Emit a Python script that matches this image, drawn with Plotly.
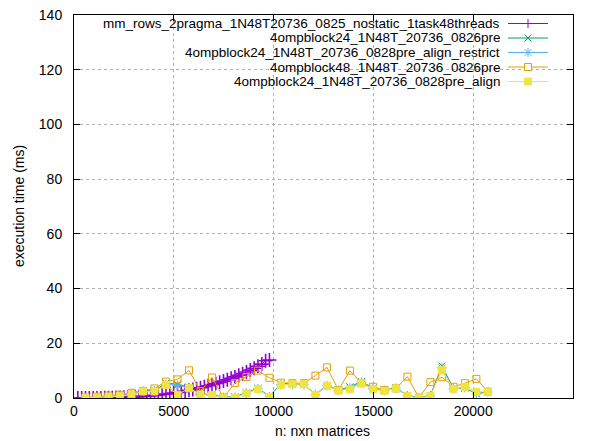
import plotly.graph_objects as go

# ---------------- data ----------------
n_rows = [192, 384, 576, 768, 960, 1152, 1344, 1536, 1728, 1920,
          2112, 2304, 2496, 2688, 2880, 3072, 3264, 3456, 3648, 3840,
          4032, 4224, 4416, 4608, 4800, 4992, 5184, 5376, 5568, 5760,
          5952, 6144, 6336, 6528, 6720, 6912, 7104, 7296, 7488, 7680,
          7872, 8064, 8256, 8448, 8640, 8832, 9024, 9216, 9408, 9600, 9792]
t_rows = [0.00, 0.00, 0.01, 0.01, 0.02, 0.03, 0.04, 0.06, 0.08, 0.11,
          0.14, 0.18, 0.23, 0.29, 0.35, 0.43, 0.51, 0.61, 0.72, 0.84,
          0.97, 1.11, 1.27, 1.44, 1.63, 1.84, 2.05, 2.29, 2.55, 2.82,
          3.10, 3.42, 3.74, 4.10, 4.47, 4.86, 5.28, 5.72, 6.18, 6.66,
          7.20, 7.72, 8.30, 8.90, 9.50, 10.2, 10.9, 11.6, 12.4, 13.6, 13.9]

n_block = [576, 1152, 1728, 2304, 2880, 3456, 4032, 4608, 5184, 5760,
           6336, 6912, 7488, 8064, 8640, 9216, 9792, 10368, 10944, 11520,
           12096, 12672, 13248, 13824, 14400, 14976, 15552, 16128, 16704, 17280,
           17856, 18432, 19008, 19584, 20160, 20736]
t_b24_0826 = [0.1, 0.2, 0.4, 0.8, 1.4, 2.6, 2.8, 5.4, 5.0, 4.0,
              1.5, 1.2, 0.3, 0.4, 1.9, 3.6, 0.6, 5.2, 5.3, 5.0,
              1.3, 4.6, 2.9, 4.1, 6.0, 3.6, 2.9, 3.7, 0.9, 0.2,
              0.9, 11.7, 3.5, 3.6, 1.6, 2.3]
t_b24_restrict = [0.1, 0.2, 0.4, 0.8, 1.3, 2.5, 2.6, 5.0, 4.6, 3.8,
                  1.3, 1.1, 0.2, 0.3, 1.8, 3.4, 0.5, 4.9, 5.0, 4.8,
                  1.2, 4.5, 2.8, 3.6, 5.7, 3.4, 2.7, 3.6, 0.8, 0.1,
                  0.8, 11.0, 3.4, 3.8, 1.5, 2.2]
t_b48_0826 = [0.2, 0.5, 0.9, 1.2, 1.9, 2.6, 3.5, 6.0, 6.8, 10.1,
              2.5, 7.5, 0.2, 5.5, 7.7, 10.0, 7.4, 5.6, 5.4, 5.4,
              8.2, 11.2, 2.9, 10.0, 5.4, 4.1, 2.9, 3.5, 7.8, 0.1,
              5.8, 7.6, 4.1, 5.4, 7.0, 2.3]
t_b24_align = [0.1, 0.2, 0.4, 0.7, 1.3, 2.4, 2.4, 4.8, 1.2, 3.6,
               1.2, 1.0, 0.1, 0.1, 1.7, 3.3, 0.4, 4.8, 5.1, 5.1,
               1.1, 4.4, 2.7, 3.2, 5.4, 3.2, 2.6, 3.5, 0.7, 0.0,
               0.7, 10.2, 3.2, 4.1, 2.3, 2.3]

names = ["mm_rows_2pragma_1N48T20736_0825_nostatic_1task48threads",
         "4ompblock24_1N48T_20736_0826pre",
         "4ompblock24_1N48T_20736_0828pre_align_restrict",
         "4ompblock48_1N48T_20736_0826pre",
         "4ompblock24_1N48T_20736_0828pre_align"]
colors = ["#9400d3", "#009e73", "#56b4e9", "#e69f00", "#f0e442"]
symbols = ["cross-thin-open", "x-thin-open", "asterisk-open", "square-open", "square"]
msizes = [10, 7, 8, 7, 7]
mwidths = [1.6, 1, 1, 1, 1]

x_ticks = [0, 5000, 10000, 15000, 20000, 25000]
y_ticks = [0, 20, 40, 60, 80, 100, 120, 140]
x_title = "n: nxn matrices"
y_title = "execution time (ms)"

# ---------------- figure ----------------
W, H = 592, 441
L, R, T, B = 74, 573, 15, 398
FONT = "Liberation Sans, Arial, sans-serif"

series = [(n_rows, t_rows), (n_block, t_b24_0826), (n_block, t_b24_restrict),
          (n_block, t_b48_0826), (n_block, t_b24_align)]

fig = go.Figure()
for (xs, ys), nm, c, s, ms, mw in zip(series, names, colors, symbols, msizes, mwidths):
    fig.add_trace(go.Scatter(
        x=xs, y=ys, name=nm, mode="lines+markers",
        line=dict(color=c, width=1),
        marker=dict(symbol=s, size=ms, color=c, line=dict(color=c, width=mw)),
        showlegend=False))

def px(xp):
    return (xp - L) / (R - L)

def py(yp):
    return (B - yp) / (B - T)

shapes = []
# opaque key background
shapes.append(dict(type="rect", xref="paper", yref="paper", layer="between",
                   x0=px(76), x1=px(566), y0=py(88), y1=py(17),
                   fillcolor="white", line=dict(width=0)))
annotations = []
row_y = [23.5, 38, 52.5, 67, 81.5]
mx = 528
for i, (nm, c) in enumerate(zip(names, colors)):
    yy = row_y[i]
    annotations.append(dict(text=nm, xref="paper", yref="paper", x=px(501), y=py(yy),
                            xanchor="right", yanchor="middle", showarrow=False,
                            borderpad=0,
                            font=dict(family=FONT, size=13.5, color="black")))
    shapes.append(dict(type="line", xref="paper", yref="paper", layer="above",
                       x0=px(508), x1=px(548), y0=py(yy), y1=py(yy),
                       line=dict(color=c, width=1)))
    seg = []
    if i in (0, 2):
        seg += [((mx - 4.5, yy), (mx + 4.5, yy)), ((mx, yy - 4.5), (mx, yy + 4.5))]
    if i in (1, 2):
        seg += [((mx - 3.5, yy - 3.5), (mx + 3.5, yy + 3.5)), ((mx - 3.5, yy + 3.5), (mx + 3.5, yy - 3.5))]
    for (a, b) in seg:
        shapes.append(dict(type="line", xref="paper", yref="paper", layer="above",
                           x0=px(a[0]), y0=py(a[1]), x1=px(b[0]), y1=py(b[1]),
                           line=dict(color=c, width=1)))
    if i in (3, 4):
        shapes.append(dict(type="rect", xref="paper", yref="paper", layer="above",
                           x0=px(mx - 3.5), x1=px(mx + 3.5), y0=py(yy + 3.5), y1=py(yy - 3.5),
                           fillcolor=("white" if i == 3 else c),
                           line=dict(color=c, width=1)))

# axis titles at the reference positions
annotations.append(dict(text=x_title, xref="paper", yref="paper", x=px(322), y=py(431),
                        xanchor="center", yanchor="middle", showarrow=False,
                        font=dict(family=FONT, size=14, color="black")))
annotations.append(dict(text=y_title, xref="paper", yref="paper", x=px(19), y=py(206),
                        xanchor="center", yanchor="middle", showarrow=False, textangle=-90,
                        font=dict(family=FONT, size=14, color="black")))

axis_common = dict(showline=True, linecolor="black", linewidth=1, mirror="ticks",
                   ticks="inside", ticklen=6, tickcolor="black",
                   showgrid=True, gridcolor="#b0b0b0", griddash="dot", gridwidth=1,
                   zeroline=False, automargin=False,
                   tickfont=dict(family=FONT, size=14, color="black"))

fig.update_xaxes(range=[0, 25000], tickvals=x_ticks, ticktext=[str(v) for v in x_ticks],
                 **axis_common)
fig.update_yaxes(range=[0, 140], tickvals=y_ticks, ticktext=[str(v) for v in y_ticks],
                 ticklabelstandoff=8,
                 **axis_common)

fig.update_layout(width=W, height=H, margin=dict(l=L, r=W - R, t=T, b=H - B),
                  paper_bgcolor="white", plot_bgcolor="white",
                  shapes=shapes, annotations=annotations, showlegend=False,
                  font=dict(family=FONT, size=14, color="black"))

fig.write_html("out.html")
